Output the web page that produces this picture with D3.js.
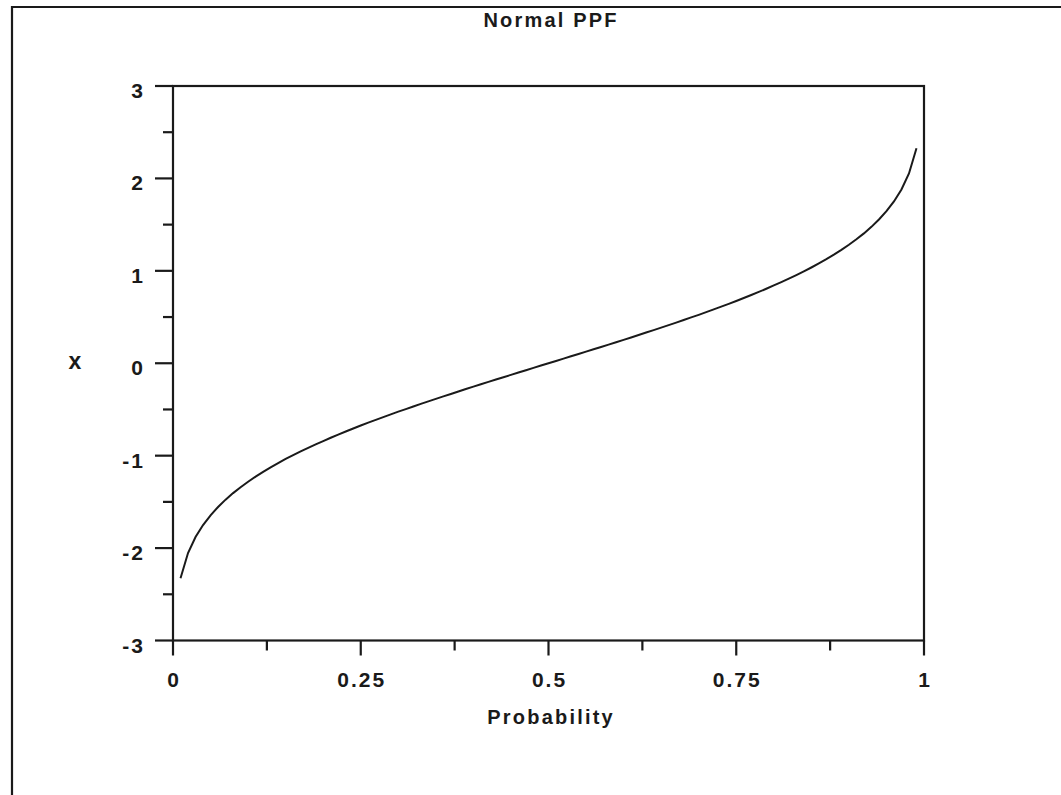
<!DOCTYPE html>
<html>
<head>
<meta charset="utf-8">
<script src="https://cdn.jsdelivr.net/npm/d3@7"></script>
<style>
  html, body { margin: 0; padding: 0; background: #fff; }
  svg { display: block; }
  text { font-family: "Liberation Sans", Arial, sans-serif; fill: #1a1a1a; }
</style>
</head>
<body>
<svg id="chart" width="1061" height="795"></svg>
<script>
// ---- data ----
const title = "Normal PPF";
const xLabel = "Probability";
const yLabel = "x";
const probability = [0.01,0.02,0.03,0.04,0.05,0.06,0.07,0.08,0.09,0.10,
  0.11,0.12,0.13,0.14,0.15,0.16,0.17,0.18,0.19,0.20,
  0.21,0.22,0.23,0.24,0.25,0.26,0.27,0.28,0.29,0.30,
  0.31,0.32,0.33,0.34,0.35,0.36,0.37,0.38,0.39,0.40,
  0.41,0.42,0.43,0.44,0.45,0.46,0.47,0.48,0.49,0.50,
  0.51,0.52,0.53,0.54,0.55,0.56,0.57,0.58,0.59,0.60,
  0.61,0.62,0.63,0.64,0.65,0.66,0.67,0.68,0.69,0.70,
  0.71,0.72,0.73,0.74,0.75,0.76,0.77,0.78,0.79,0.80,
  0.81,0.82,0.83,0.84,0.85,0.86,0.87,0.88,0.89,0.90,
  0.91,0.92,0.93,0.94,0.95,0.96,0.97,0.98,0.99];
const xValue = [-2.326,-2.054,-1.881,-1.751,-1.645,-1.555,-1.476,-1.405,-1.341,-1.282,
  -1.227,-1.175,-1.126,-1.080,-1.036,-0.994,-0.954,-0.915,-0.878,-0.842,
  -0.806,-0.772,-0.739,-0.706,-0.674,-0.643,-0.613,-0.583,-0.553,-0.524,
  -0.496,-0.468,-0.440,-0.412,-0.385,-0.358,-0.332,-0.305,-0.279,-0.253,
  -0.228,-0.202,-0.176,-0.151,-0.126,-0.100,-0.075,-0.050,-0.025,0.000,
  0.025,0.050,0.075,0.100,0.126,0.151,0.176,0.202,0.228,0.253,
  0.279,0.305,0.332,0.358,0.385,0.412,0.440,0.468,0.496,0.524,
  0.553,0.583,0.613,0.643,0.674,0.706,0.739,0.772,0.806,0.842,
  0.878,0.915,0.954,0.994,1.036,1.080,1.126,1.175,1.227,1.282,
  1.341,1.405,1.476,1.555,1.645,1.751,1.881,2.054,2.326];
const xMajorTicks = [0, 0.25, 0.5, 0.75, 1];
const xTickLabels = ["0", "0.25", "0.5", "0.75", "1"];
const xMinorTicks = [0.125, 0.375, 0.625, 0.875];
const yMajorTicks = [-3, -2, -1, 0, 1, 2, 3];
const yTickLabels = ["-3", "-2", "-1", "0", "1", "2", "3"];
const yMinorTicks = [-2.5, -1.5, -0.5, 0.5, 1.5, 2.5];

// ---- layout ----
const ink = "#1a1a1a";
const plotL = 173, plotR = 924, plotT = 86, plotB = 640.5;
const svg = d3.select("#chart");

const x = d3.scaleLinear().domain([0, 1]).range([plotL, plotR]);
const y = d3.scaleLinear().domain([-3, 3]).range([plotB, plotT]);

// outer frame (extends past the window on right/bottom)
svg.append("path")
  .attr("d", "M12,800 L12,7 L1070,7")
  .attr("fill", "none").attr("stroke", ink).attr("stroke-width", 2.2);

// plot box
svg.append("rect")
  .attr("x", plotL).attr("y", plotT)
  .attr("width", plotR - plotL).attr("height", plotB - plotT)
  .attr("fill", "none").attr("stroke", ink).attr("stroke-width", 2.2);

const tickLen = { major: 18, minor: 10, xMajor: 15, xMinor: 10 };
svg.append("g").selectAll("line").data(yMajorTicks).join("line")
  .attr("x1", plotL - tickLen.major).attr("x2", plotL)
  .attr("y1", d => y(d)).attr("y2", d => y(d))
  .attr("stroke", ink).attr("stroke-width", 2.2);
svg.append("g").selectAll("line").data(yMinorTicks).join("line")
  .attr("x1", plotL - tickLen.minor).attr("x2", plotL)
  .attr("y1", d => y(d)).attr("y2", d => y(d))
  .attr("stroke", ink).attr("stroke-width", 2.2);

svg.append("g").selectAll("line").data(xMajorTicks).join("line")
  .attr("x1", d => x(d)).attr("x2", d => x(d))
  .attr("y1", plotB).attr("y2", plotB + tickLen.xMajor)
  .attr("stroke", ink).attr("stroke-width", 2.2);
svg.append("g").selectAll("line").data(xMinorTicks).join("line")
  .attr("x1", d => x(d)).attr("x2", d => x(d))
  .attr("y1", plotB).attr("y2", plotB + tickLen.xMinor)
  .attr("stroke", ink).attr("stroke-width", 2.2);

// tick labels
const ls = 2;
svg.append("g").selectAll("text").data(yMajorTicks).join("text")
  .attr("x", 143 + ls).attr("y", d => y(d) + 12)
  .attr("text-anchor", "end")
  .style("font-size", "21px").style("font-weight", "bold")
  .style("letter-spacing", ls + "px")
  .text((d, i) => yTickLabels[i]);

svg.append("g").selectAll("text").data(xMajorTicks).join("text")
  .attr("x", d => x(d) + ls / 2).attr("y", 686.5)
  .attr("text-anchor", "middle")
  .style("font-size", "21px").style("font-weight", "bold")
  .style("letter-spacing", ls + "px")
  .text((d, i) => xTickLabels[i]);

// titles
const tls = 2.2;
svg.append("text")
  .attr("x", 550 + tls / 2).attr("y", 27)
  .attr("text-anchor", "middle")
  .style("font-size", "20px").style("font-weight", "bold")
  .style("letter-spacing", tls + "px")
  .text(title);

svg.append("text")
  .attr("x", 550 + tls / 2).attr("y", 724)
  .attr("text-anchor", "middle")
  .style("font-size", "20px").style("font-weight", "bold")
  .style("letter-spacing", tls + "px")
  .text(xLabel);

svg.append("text")
  .attr("x", 75).attr("y", 369)
  .attr("text-anchor", "middle")
  .style("font-size", "23px").style("font-weight", "bold")
  .text(yLabel);

// curve
const pts = probability.map((p, i) => [p, xValue[i]]);
svg.append("path")
  .datum(pts)
  .attr("fill", "none").attr("stroke", ink).attr("stroke-width", 2)
  .attr("d", d3.line().x(d => x(d[0])).y(d => y(d[1])));
</script>
</body>
</html>
